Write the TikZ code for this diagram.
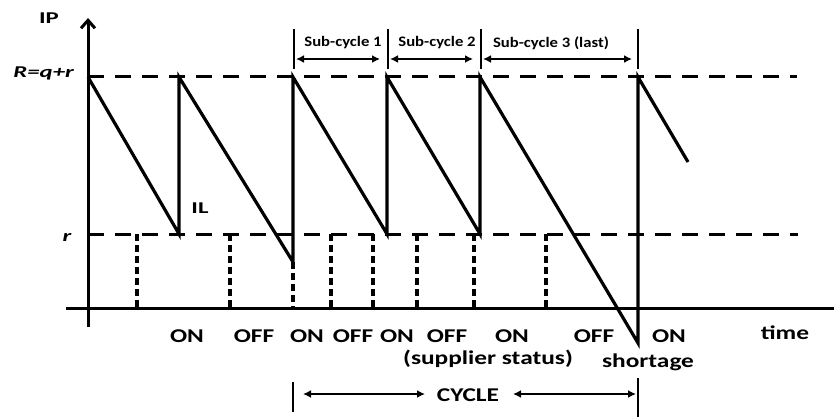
\documentclass[tikz,border=0pt]{standalone}
\usepackage{fontspec}
\setmainfont[FakeStretch=1.3]{Carlito}
\newfontfamily\subfont[FakeStretch=1.15]{Carlito}
\newfontfamily\widefont[FakeStretch=1.5]{Carlito}
\usetikzlibrary{arrows.meta}
\begin{document}
\begin{tikzpicture}[x=1pt,y=-1pt,
  axis/.style={line width=3pt},
  saw/.style={line width=3.2pt, line join=miter},
  level/.style={line width=3pt, dash pattern=on 16pt off 11pt},
  status/.style={line width=3.5pt, dash pattern=on 7pt off 4pt},
  tickline/.style={line width=2.5pt},
  span/.style={line width=2.2pt, {Latex[length=8pt,width=8pt]}-{Latex[length=8pt,width=8pt]}},
  lbl/.style={font=\bfseries\fontsize{19.5}{21}\selectfont, inner sep=0pt},
  sublbl/.style={font=\subfont\bfseries\fontsize{14.5}{16}\selectfont, inner sep=0pt},
  axlbl/.style={font=\widefont\bfseries\fontsize{16.5}{18}\selectfont, inner sep=0pt}]
\useasboundingbox (0,0) rectangle (834,417);

% axes
\draw[axis, -{Straight Barb[length=8pt,width=14pt]}] (88,327) -- (88,18);
\draw[axis] (66,308) -- (834,308);

% levels
\draw[level] (88,77) -- (797,77);
\draw[level] (88,234) -- (798,234);

% supplier status dashed verticals
\foreach \x in {137,230,331,373,417,474,546}
  \draw[status] (\x,234) -- (\x,308);
\draw[status] (293,262) -- (293,308);

% inventory position sawtooth
\draw[saw] (88,77) -- (179,234) -- (179,77) -- (293,262) -- (293,77)
  -- (387,234) -- (387,77) -- (480,234) -- (480,77) -- (638,343)
  -- (638,77) -- (688,162);

% sub-cycle brackets
\foreach \x in {294,388,481,638}
  \draw[tickline] (\x,29) -- (\x,69);
\draw[span] (296,59) -- (380,59);
\draw[span] (390,59) -- (473,59);
\draw[span] (483,59) -- (632,59);
\node[sublbl] (s1) at (343,43) {Sub-cycle 1};
\node[sublbl] (s2) at (437,43) {Sub-cycle 2};
\node[sublbl] (s3) at (551,43) {Sub-cycle 3 (last)};

% cycle bracket
\draw[tickline] (293,382) -- (293,412);
\draw[tickline] (638,378) -- (638,417);
\node[lbl] (cyc) at (468,395) {CYCLE};
\draw[span] (303,394) -- (425,394);
\draw[span] (513,394) -- (636,394);

% axis labels
\node[axlbl] (ip) at (49,18) {IP};
\node[axlbl, anchor=east] (R) at (74,73) {\itshape R=q+r};
\node[axlbl] (rr) at (67,237) {\itshape r};
\node[axlbl] (il) at (200,208) {IL};

% status labels
\node[lbl] (on1) at (187,336) {ON};
\node[lbl] (off1) at (254,336) {OFF};
\node[lbl] (on2) at (307,336) {ON};
\node[lbl] (off2) at (353,336) {OFF};
\node[lbl] (on3) at (397,336) {ON};
\node[lbl] (off3) at (447,336) {OFF};
\node[lbl] (on4) at (512,336) {ON};
\node[lbl] (off4) at (594,336) {OFF};
\node[lbl] (on5) at (669,336) {ON};
\node[lbl] (time) at (785,333) {time};
\node[lbl] (sup) at (488,359) {(supplier status)};
\node[lbl] (short) at (648,362) {shortage};
\end{tikzpicture}
\end{document}
